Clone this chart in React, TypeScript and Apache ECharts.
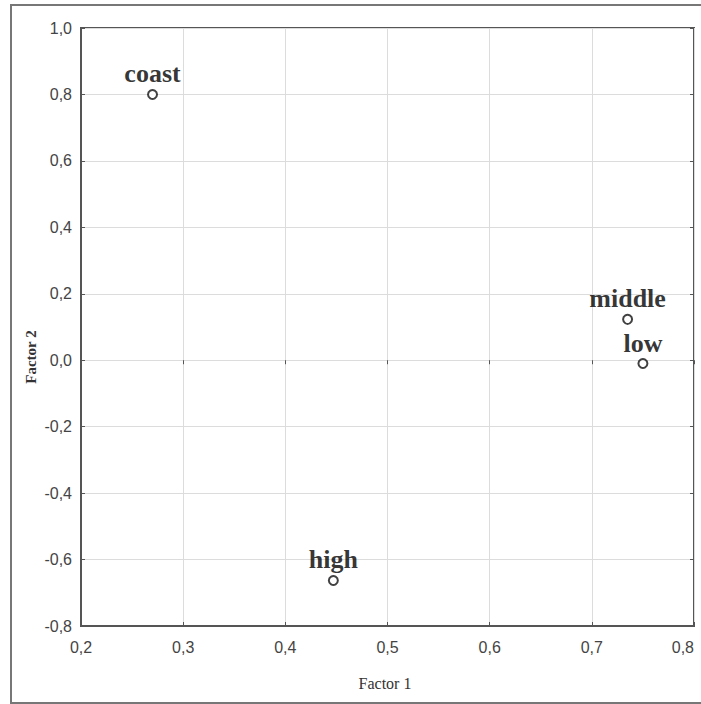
import React, { useEffect, useRef } from "react";
import * as echarts from "echarts";

const pointNames = ["coast", "middle", "low", "high"];
const factor1 = [0.27, 0.735, 0.75, 0.447];
const factor2 = [0.8, 0.123, -0.01, -0.663];
const xTicks = [0.2, 0.3, 0.4, 0.5, 0.6, 0.7, 0.8];
const yTicks = [-0.8, -0.6, -0.4, -0.2, 0.0, 0.2, 0.4, 0.6, 0.8, 1.0];

const fmt = (v: number) => v.toFixed(1).replace(".", ",");
const tickFont = "'Liberation Sans Narrow', 'Arial Narrow', 'Liberation Sans', sans-serif";

export default function App() {
  const ref = useRef<HTMLDivElement>(null);
  useEffect(() => {
    const chart = echarts.init(ref.current!, null, { renderer: "svg" });
    const data = pointNames.map((n, i) => ({ name: n, value: [factor1[i], factor2[i]] }));
    const hidden = {
      axisLabel: { show: false },
      splitLine: { show: false },
      axisLine: { show: false },
    };
    chart.setOption({
      animation: false,
      backgroundColor: "#fff",
      graphic: [
        {
          type: "rect",
          shape: { x: 11, y: 5, width: 700, height: 698 },
          style: { fill: "none", stroke: "#777", lineWidth: 2 },
          silent: true,
        },
        {
          type: "text",
          x: 385,
          y: 683,
          style: {
            text: "Factor 1",
            font: "16px 'Liberation Serif', serif",
            fill: "#333",
            align: "center",
            verticalAlign: "middle",
          },
        },
        {
          type: "text",
          x: 31,
          y: 357,
          rotation: Math.PI / 2,
          style: {
            text: "Factor 2",
            font: "bold 15px 'Liberation Serif', serif",
            fill: "#333",
            align: "center",
            verticalAlign: "middle",
          },
        },
      ],
      grid: {
        left: 81,
        top: 28,
        right: 7,
        bottom: 78,
        containLabel: false,
        outerBoundsMode: "none",
        show: true,
        borderColor: "#555",
        borderWidth: 2,
      },
      xAxis: [
        {
          type: "value",
          min: xTicks[0],
          max: xTicks[xTicks.length - 1],
          interval: 0.1,
          axisLine: { show: true, onZero: false, lineStyle: { color: "#555", width: 2 } },
          axisTick: { show: true, inside: true, length: 4, lineStyle: { color: "#555" } },
          axisLabel: {
            formatter: (v: number) => fmt(v),
            fontFamily: tickFont,
            fontSize: 16,
            color: "#444",
            margin: 13,
            alignMaxLabel: "right",
          },
          splitLine: { show: true, lineStyle: { color: "#dcdcdc", width: 1 } },
        },
        {
          type: "value",
          position: "top",
          min: xTicks[0],
          max: xTicks[xTicks.length - 1],
          interval: 0.1,
          axisTick: { show: true, inside: true, length: 4, lineStyle: { color: "#555" } },
          ...hidden,
        },
      ],
      yAxis: [
        {
          type: "value",
          min: yTicks[0],
          max: yTicks[yTicks.length - 1],
          interval: 0.2,
          axisLine: { show: true, onZero: false, lineStyle: { color: "#555", width: 2 } },
          axisTick: { show: true, inside: true, length: 4, lineStyle: { color: "#555" } },
          axisLabel: {
            formatter: (v: number) => fmt(v),
            fontFamily: tickFont,
            fontSize: 16,
            color: "#444",
            margin: 9,
          },
          splitLine: { show: true, lineStyle: { color: "#dcdcdc", width: 1 } },
        },
        {
          type: "value",
          position: "right",
          min: yTicks[0],
          max: yTicks[yTicks.length - 1],
          interval: 0.2,
          axisTick: { show: true, inside: true, length: 4, lineStyle: { color: "#555" } },
          ...hidden,
        },
      ],
      series: [
        {
          type: "scatter",
          xAxisIndex: 0,
          yAxisIndex: 0,
          data,
          symbol: "circle",
          symbolSize: 9,
          itemStyle: { color: "#fff", borderColor: "#111", borderWidth: 2 },
          label: {
            show: true,
            position: "top",
            distance: 2,
            formatter: (p: any) => p.name,
            fontFamily: "'Liberation Serif', 'Times New Roman', serif",
            fontWeight: "bold",
            fontSize: 26,
            color: "#000",
          },
        },
      ],
    });
    return () => chart.dispose();
  }, []);
  return (
    <div
      ref={ref}
      style={{ position: "fixed", left: 0, top: 0, width: 701, height: 704 }}
    />
  );
}
